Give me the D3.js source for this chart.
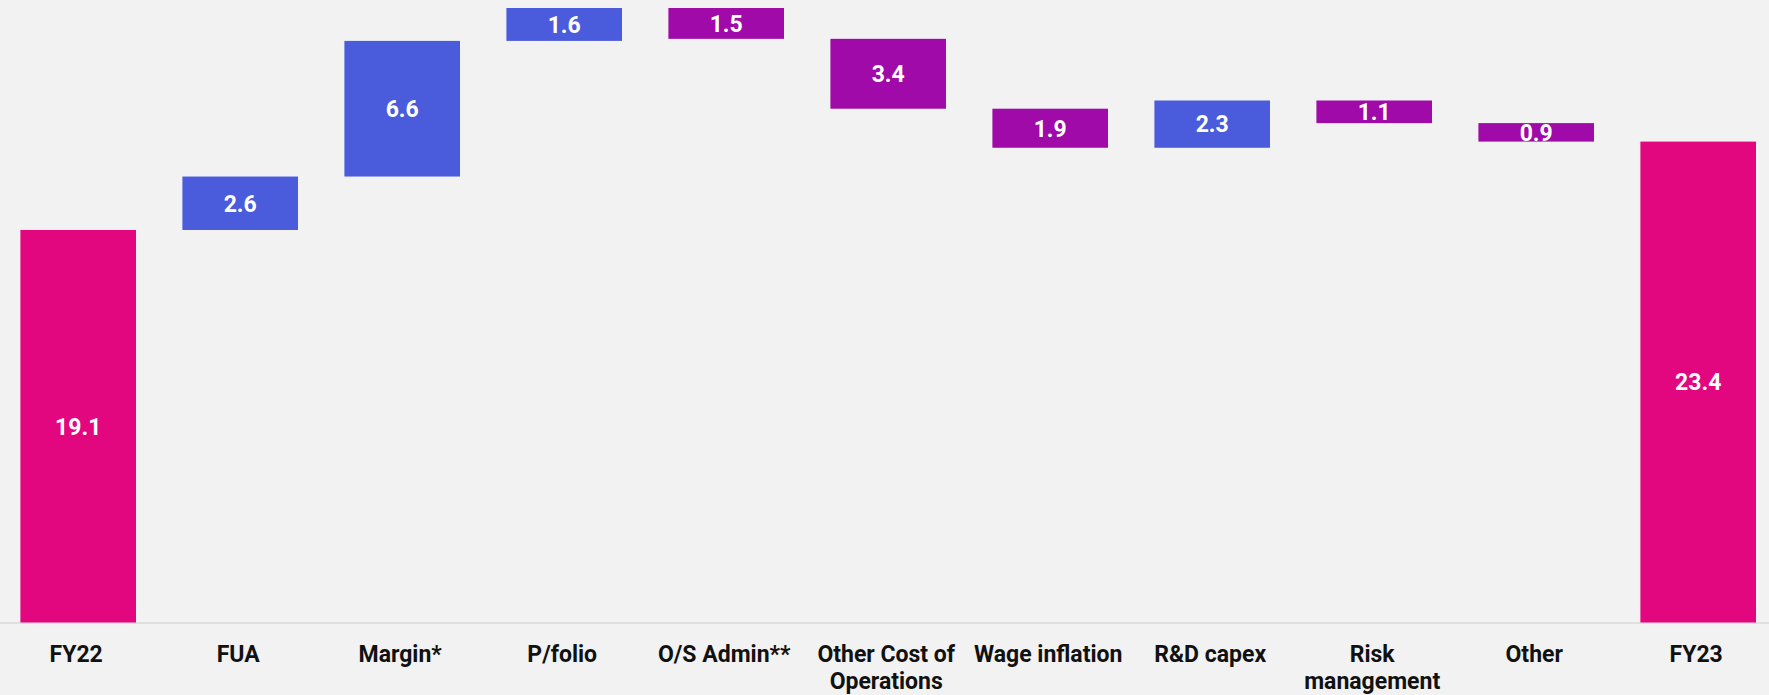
<!DOCTYPE html>
<html><head><meta charset="utf-8">
<script src="https://cdn.jsdelivr.net/npm/d3@7"></script>
<style>
html,body{margin:0;padding:0;background:#F2F2F2;}
svg{display:block;}
</style></head>
<body>
<svg id="chart" width="1769" height="695"></svg>
<script>
const categories = ["FY22","FUA","Margin*","P/folio","O/S Admin**","Other Cost of Operations","Wage inflation","R&D capex","Risk management","Other","FY23"];
const tickLabels = [["FY22"],["FUA"],["Margin*"],["P/folio"],["O/S Admin**"],["Other Cost of","Operations"],["Wage inflation"],["R&D capex"],["Risk","management"],["Other"],["FY23"]];
const values = [19.1, 2.6, 6.6, 1.6, -1.5, -3.4, -1.9, 2.3, -1.1, -0.9, 23.4];
const kinds = ["total","up","up","up","down","down","down","up","down","down","total"];
const valueLabels = ["19.1","2.6","6.6","1.6","1.5","3.4","1.9","2.3","1.1","0.9","23.4"];

const colors = {total:"#E2067F", up:"#4A5BDC", down:"#A00AA8"};

const W = 1769, H = 695;
const svg = d3.select("#chart");
svg.append("rect").attr("width",W).attr("height",H).attr("fill","#F2F2F2");

const x = d3.scaleBand().domain(categories).range([20.4, 1756]).paddingInner(0.2864).paddingOuter(0);
const y = d3.scaleLinear().domain([0, 30.29]).range([622.5, 0]);

let running = 0;
const segs = categories.map((c,i)=>{
  let y0, y1;
  if (kinds[i] === "total") { y0 = 0; y1 = values[i]; running = values[i]; }
  else { y0 = running; y1 = running + values[i]; running = y1; }
  return {c, lo: Math.min(y0,y1), hi: Math.max(y0,y1), kind: kinds[i], label: valueLabels[i]};
});

svg.append("line").attr("x1",0).attr("x2",W).attr("y1",y(0)+0.5).attr("y2",y(0)+0.5)
  .attr("stroke","#D9D9D9").attr("stroke-width",1.5);

const g = svg.append("g");
g.selectAll("rect.bar").data(segs).join("rect").attr("class","bar")
  .attr("x", d=>x(d.c)).attr("width", x.bandwidth())
  .attr("y", d=>y(d.hi)).attr("height", d=>y(d.lo)-y(d.hi))
  .attr("fill", d=>colors[d.kind]);

g.selectAll("text.val").data(segs).join("text").attr("class","val")
  .attr("x", d=>x(d.c)+x.bandwidth()/2)
  .attr("y", d=>(y(d.hi)+y(d.lo))/2)
  .attr("dy","0.36em")
  .attr("text-anchor","middle")
  .attr("fill","#FFFFFF")
  .attr("font-family","Roboto, sans-serif")
  .attr("font-weight","bold")
  .attr("font-size","23px")
  .text(d=>d.label);

const xa = svg.append("g");
categories.forEach((c,i)=>{
  const cx = x(c)+x.bandwidth()/2 - 2;
  const t = xa.append("text")
    .attr("x", cx)
    .attr("y", 662)
    .attr("text-anchor","middle")
    .attr("fill","#111111")
    .attr("font-family","Roboto, sans-serif")
    .attr("font-weight","bold")
    .attr("font-size","23px");
  tickLabels[i].forEach((ln,j)=>{
    t.append("tspan").attr("x", cx).attr("dy", j===0?0:27).text(ln);
  });
});
</script>
</body></html>
